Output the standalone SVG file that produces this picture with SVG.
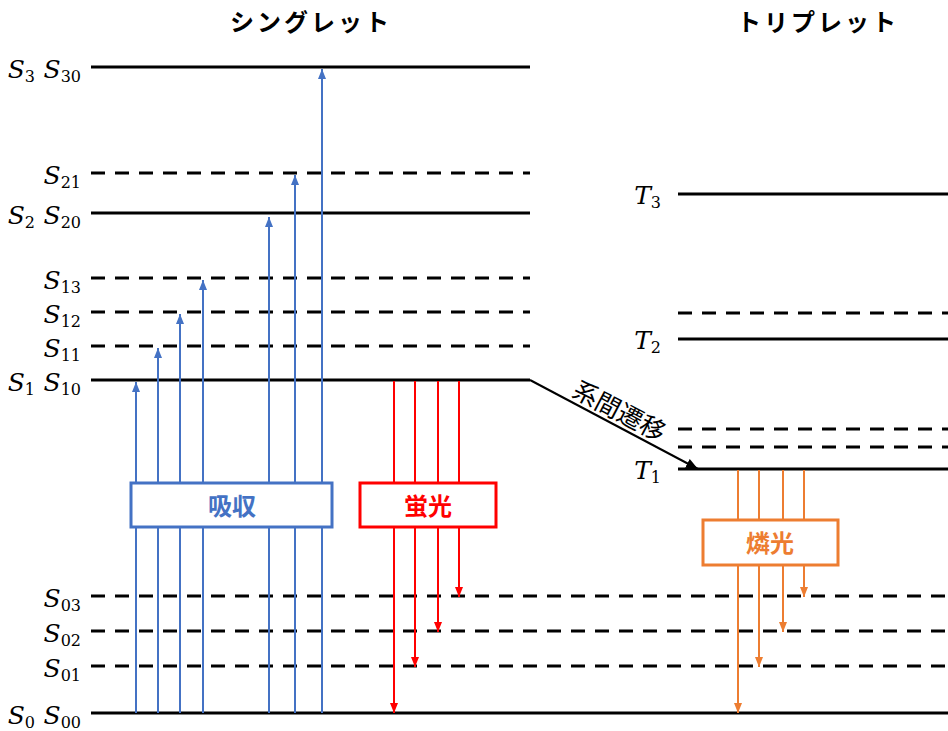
<svg xmlns="http://www.w3.org/2000/svg" width="948" height="731" viewBox="0 0 948 731">
  <style>
    .lvl { stroke: #000; stroke-width: 3; fill: none; }
    .dash { stroke-dasharray: 14 10; }
    .sym { font-family: "DejaVu Serif", "Liberation Serif", serif; font-style: italic; font-size: 25px; fill: #000; }
    .sub { font-size: 16px; font-style: normal; }
    .title { font-family: "Noto Sans CJK JP", "Noto Sans", sans-serif; font-weight: bold; font-size: 24px; letter-spacing: 3px; fill: #000; }
    .boxlabel { font-family: "Noto Sans CJK JP", "Noto Sans", sans-serif; font-weight: bold; font-size: 24px; text-anchor: middle; }
    .abs { stroke: #4472C4; stroke-width: 2; fill: none; }
    .flu { stroke: #FF0000; stroke-width: 2; fill: none; }
    .pho { stroke: #ED7D31; stroke-width: 2; fill: none; }
  </style>
  <defs>
    <marker id="hBlue" markerUnits="userSpaceOnUse" markerWidth="10" markerHeight="8" refX="10" refY="4" orient="auto">
      <path d="M0,0 L10,4 L0,8 z" fill="#4472C4"/>
    </marker>
    <marker id="hRed" markerUnits="userSpaceOnUse" markerWidth="10" markerHeight="8" refX="10" refY="4" orient="auto">
      <path d="M0,0 L10,4 L0,8 z" fill="#FF0000"/>
    </marker>
    <marker id="hOrange" markerUnits="userSpaceOnUse" markerWidth="10" markerHeight="8" refX="10" refY="4" orient="auto">
      <path d="M0,0 L10,4 L0,8 z" fill="#ED7D31"/>
    </marker>
    <marker id="hBlack" markerUnits="userSpaceOnUse" markerWidth="12" markerHeight="10" refX="12" refY="5" orient="auto">
      <path d="M0,0 L12,5 L0,10 z" fill="#000"/>
    </marker>
  </defs>

  <!-- column headings -->
  <text class="title" x="311" y="31" text-anchor="middle">シングレット</text>
  <text class="title" x="818" y="31" text-anchor="middle">トリプレット</text>

  <!-- singlet energy levels -->
  <g id="singlet-levels">
    <line class="lvl" x1="91" y1="67" x2="530" y2="67"/>
    <line class="lvl dash" x1="91" y1="173" x2="530" y2="173"/>
    <line class="lvl" x1="91" y1="213" x2="530" y2="213"/>
    <line class="lvl dash" x1="91" y1="278" x2="530" y2="278"/>
    <line class="lvl dash" x1="91" y1="312" x2="530" y2="312"/>
    <line class="lvl dash" x1="91" y1="346" x2="530" y2="346"/>
    <line class="lvl" x1="91" y1="380" x2="530" y2="380"/>
    <line class="lvl dash" x1="91" y1="596" x2="948" y2="596"/>
    <line class="lvl dash" x1="91" y1="631" x2="948" y2="631"/>
    <line class="lvl dash" x1="91" y1="666" x2="948" y2="666"/>
    <line class="lvl" x1="91" y1="713" x2="948" y2="713"/>
  </g>

  <!-- triplet energy levels -->
  <g id="triplet-levels">
    <line class="lvl" x1="678" y1="194" x2="948" y2="194"/>
    <line class="lvl dash" x1="678" y1="313" x2="948" y2="313"/>
    <line class="lvl" x1="678" y1="339" x2="948" y2="339"/>
    <line class="lvl dash" x1="678" y1="429" x2="948" y2="429"/>
    <line class="lvl dash" x1="678" y1="447" x2="948" y2="447"/>
    <line class="lvl" x1="678" y1="469" x2="948" y2="469"/>
  </g>

  <!-- level labels -->
  <g id="labels">
    <text class="sym" x="35" y="78" text-anchor="end">S<tspan class="sub" dy="4">3</tspan></text>
    <text class="sym" x="81" y="78" text-anchor="end">S<tspan class="sub" dy="4">30</tspan></text>
    <text class="sym" x="81" y="184" text-anchor="end">S<tspan class="sub" dy="4">21</tspan></text>
    <text class="sym" x="35" y="224" text-anchor="end">S<tspan class="sub" dy="4">2</tspan></text>
    <text class="sym" x="81" y="224" text-anchor="end">S<tspan class="sub" dy="4">20</tspan></text>
    <text class="sym" x="81" y="289" text-anchor="end">S<tspan class="sub" dy="4">13</tspan></text>
    <text class="sym" x="81" y="323" text-anchor="end">S<tspan class="sub" dy="4">12</tspan></text>
    <text class="sym" x="81" y="357" text-anchor="end">S<tspan class="sub" dy="4">11</tspan></text>
    <text class="sym" x="35" y="391" text-anchor="end">S<tspan class="sub" dy="4">1</tspan></text>
    <text class="sym" x="81" y="391" text-anchor="end">S<tspan class="sub" dy="4">10</tspan></text>
    <text class="sym" x="81" y="607" text-anchor="end">S<tspan class="sub" dy="4">03</tspan></text>
    <text class="sym" x="81" y="642" text-anchor="end">S<tspan class="sub" dy="4">02</tspan></text>
    <text class="sym" x="81" y="677" text-anchor="end">S<tspan class="sub" dy="4">01</tspan></text>
    <text class="sym" x="35" y="724" text-anchor="end">S<tspan class="sub" dy="4">0</tspan></text>
    <text class="sym" x="81" y="724" text-anchor="end">S<tspan class="sub" dy="4">00</tspan></text>
    <text class="sym" x="661" y="204" text-anchor="end">T<tspan class="sub" dy="4">3</tspan></text>
    <text class="sym" x="661" y="349" text-anchor="end">T<tspan class="sub" dy="4">2</tspan></text>
    <text class="sym" x="661" y="479" text-anchor="end">T<tspan class="sub" dy="4">1</tspan></text>
  </g>

  <!-- transitions -->
  <g id="connectors">
    <!-- absorption -->
    <line class="abs" x1="136" y1="713" x2="136" y2="382" marker-end="url(#hBlue)"/>
    <line class="abs" x1="158" y1="713" x2="158" y2="348" marker-end="url(#hBlue)"/>
    <line class="abs" x1="180" y1="713" x2="180" y2="314" marker-end="url(#hBlue)"/>
    <line class="abs" x1="203" y1="713" x2="203" y2="280" marker-end="url(#hBlue)"/>
    <line class="abs" x1="269" y1="713" x2="269" y2="217" marker-end="url(#hBlue)"/>
    <line class="abs" x1="295" y1="713" x2="295" y2="175" marker-end="url(#hBlue)"/>
    <line class="abs" x1="322" y1="713" x2="322" y2="69" marker-end="url(#hBlue)"/>
    <!-- fluorescence -->
    <line class="flu" x1="394" y1="381" x2="394" y2="713" marker-end="url(#hRed)"/>
    <line class="flu" x1="415" y1="381" x2="415" y2="667" marker-end="url(#hRed)"/>
    <line class="flu" x1="438" y1="381" x2="438" y2="632" marker-end="url(#hRed)"/>
    <line class="flu" x1="459" y1="381" x2="459" y2="597" marker-end="url(#hRed)"/>
    <!-- phosphorescence -->
    <line class="pho" x1="738" y1="470" x2="738" y2="713" marker-end="url(#hOrange)"/>
    <line class="pho" x1="759" y1="470" x2="759" y2="667" marker-end="url(#hOrange)"/>
    <line class="pho" x1="783" y1="470" x2="783" y2="632" marker-end="url(#hOrange)"/>
    <line class="pho" x1="804" y1="470" x2="804" y2="597" marker-end="url(#hOrange)"/>
    <!-- intersystem crossing -->
    <line x1="530" y1="380" x2="698" y2="469" stroke="#000" stroke-width="2" marker-end="url(#hBlack)"/>
  </g>

  <text transform="translate(615,419) rotate(27.7)" text-anchor="middle" font-family="Noto Sans CJK JP, Noto Sans, sans-serif" font-size="25" fill="#000">系間遷移</text>

  <!-- process boxes -->
  <g id="absorption">
    <rect x="131" y="483" width="201" height="44" fill="#fff" stroke="#4472C4" stroke-width="3"/>
    <text class="boxlabel" x="232" y="515" fill="#4472C4">吸収</text>
  </g>
  <g id="fluorescence">
    <rect x="360" y="483" width="136" height="44" fill="#fff" stroke="#FF0000" stroke-width="3"/>
    <text class="boxlabel" x="428" y="515" fill="#FF0000">蛍光</text>
  </g>
  <g id="phosphorescence">
    <rect x="703" y="520" width="135" height="45" fill="#fff" stroke="#ED7D31" stroke-width="3"/>
    <text class="boxlabel" x="770" y="552" fill="#ED7D31">燐光</text>
  </g>
</svg>
